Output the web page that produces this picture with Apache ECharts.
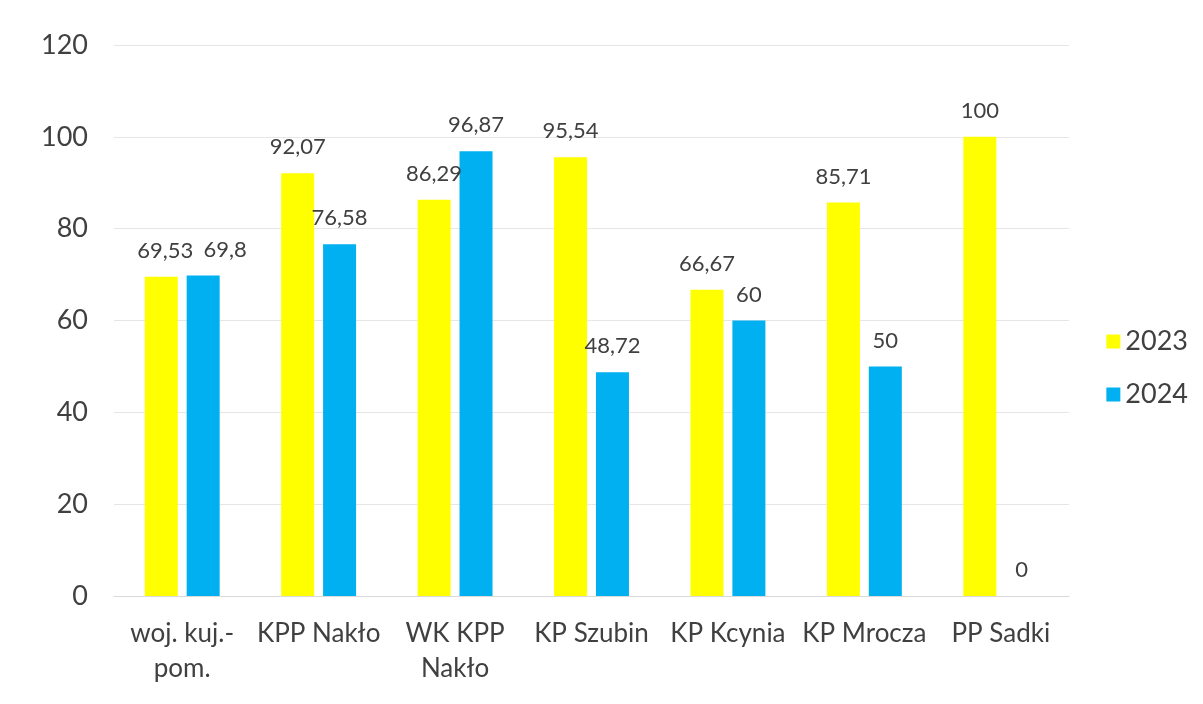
<!DOCTYPE html>
<html>
<head>
<meta charset="utf-8">
<script src="https://cdn.jsdelivr.net/npm/echarts@6/dist/echarts.min.js"></script>
<style>
  html, body { margin: 0; padding: 0; background: #fff; }
  #chart { width: 1203px; height: 704px; }
</style>
</head>
<body>
<div id="chart"></div>
<script>
// dane wykresu
const categories = ['woj. kuj.-\npom.', 'KPP Nakło', 'WK KPP\nNakło', 'KP Szubin', 'KP Kcynia', 'KP Mrocza', 'PP Sadki']
const values2023 = [69.53, 92.07, 86.29, 95.54, 66.67, 85.71, 100]
const values2024 = [69.8, 76.58, 96.87, 48.72, 60, 50, 0]
const yTicks = [0, 20, 40, 60, 80, 100, 120]

const font = 'Lato, "Open Sans", sans-serif'
const textColor = '#404040'

const chart = echarts.init(document.getElementById('chart'))

// etykiety z przecinkiem dziesiętnym
const fmt = p => String(p.value).replace('.', ',')

// pierwsza para etykiet jest rozsunięta, jak w oryginale
const withOffset = (arr, dx) => arr.map((v, i) => i === 0 ? { value: v, label: { offset: [dx, 0] } } : v)

const labelStyle = { show: true, position: 'top', distance: 15, formatter: fmt, fontFamily: font, fontSize: 22, color: textColor }

chart.setOption({
  animation: false,
  grid: { left: 114, right: 134, top: 45, bottom: 108 },
  legend: {
    orient: 'vertical',
    right: 10,
    top: 323,
    itemWidth: 14,
    itemHeight: 14,
    itemGap: 26,
    icon: 'rect',
    textStyle: { fontFamily: font, fontSize: 27, color: textColor },
    data: ['2023', '2024']
  },
  xAxis: {
    type: 'category',
    data: categories,
    axisLine: { lineStyle: { color: '#d9d9d9' } },
    axisTick: { show: false },
    axisLabel: {
      fontFamily: font, fontSize: 26, color: textColor,
      lineHeight: 35, margin: 20, interval: 0
    }
  },
  yAxis: {
    type: 'value',
    min: yTicks[0],
    max: yTicks[yTicks.length - 1],
    interval: 20,
    axisLine: { show: false },
    axisTick: { show: false },
    axisLabel: { fontFamily: font, fontSize: 27, color: textColor, margin: 26 },
    splitLine: { lineStyle: { color: '#e6e6e6' } }
  },
  series: [
    {
      name: '2023',
      type: 'bar',
      data: withOffset(values2023, 4),
      barWidth: 33,
      barGap: '27%',
      itemStyle: { color: '#ffff00' },
      label: labelStyle
    },
    {
      name: '2024',
      type: 'bar',
      data: withOffset(values2024, 22),
      barWidth: 33,
      itemStyle: { color: '#00b0f0' },
      label: labelStyle
    }
  ]
})
</script>
</body>
</html>
